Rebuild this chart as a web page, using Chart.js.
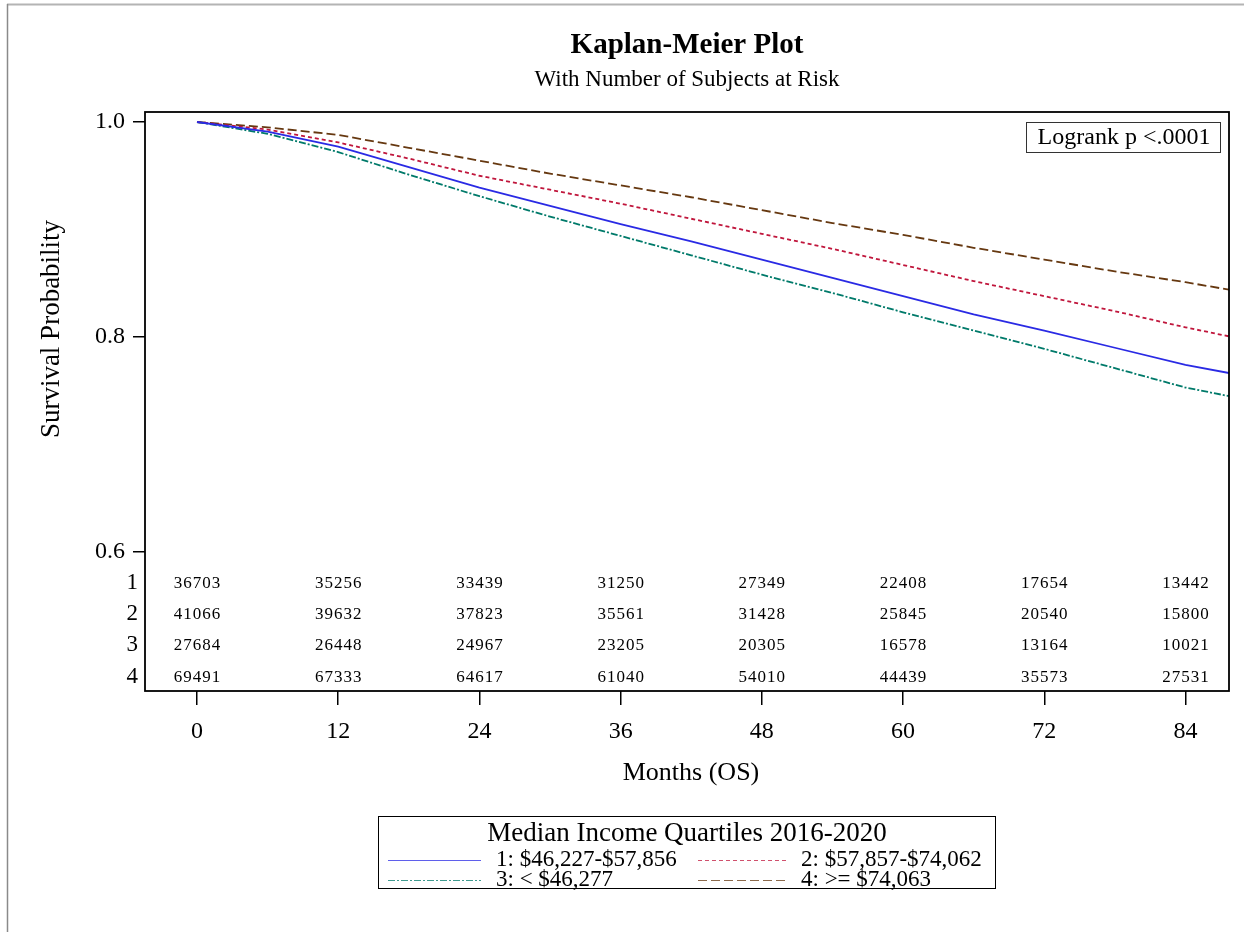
<!DOCTYPE html>
<html>
<head>
<meta charset="utf-8">
<script src="https://cdn.jsdelivr.net/npm/chart.js@4/dist/chart.umd.min.js"></script>
<style>
  html, body { margin: 0; padding: 0; background: #fff; }
  #wrap { width: 1244px; height: 932px; position: relative; }
</style>
</head>
<body>
<div id="wrap"><canvas id="km" width="1244" height="932"></canvas></div>
<script>
// Survival estimates (months of overall survival vs. probability)
const months = [0, 6, 12, 18, 24, 30, 36, 42, 48, 54, 60, 66, 72, 78, 84, 87.7];
const surv1 = [1.000, 0.991, 0.977, 0.958, 0.939, 0.922, 0.905, 0.889, 0.872, 0.855, 0.838, 0.821, 0.806, 0.790, 0.774, 0.7665];
const surv2 = [1.000, 0.993, 0.981, 0.966, 0.950, 0.937, 0.924, 0.910, 0.896, 0.882, 0.867, 0.852, 0.838, 0.824, 0.809, 0.8006];
const surv3 = [1.000, 0.989, 0.972, 0.951, 0.931, 0.912, 0.894, 0.876, 0.858, 0.841, 0.823, 0.806, 0.789, 0.771, 0.753, 0.745];
const surv4 = [1.000, 0.995, 0.988, 0.976, 0.964, 0.952, 0.941, 0.930, 0.918, 0.906, 0.895, 0.883, 0.872, 0.861, 0.851, 0.844];

// Number of subjects at risk at each labelled month
const tickMonths = [0, 12, 24, 36, 48, 60, 72, 84];
const atRisk1 = [36703, 35256, 33439, 31250, 27349, 22408, 17654, 13442];
const atRisk2 = [41066, 39632, 37823, 35561, 31428, 25845, 20540, 15800];
const atRisk3 = [27684, 26448, 24967, 23205, 20305, 16578, 13164, 10021];
const atRisk4 = [69491, 67333, 64617, 61040, 54010, 44439, 35573, 27531];

const yTicks = [0.6, 0.8, 1.0];
const groupIds = ['1', '2', '3', '4'];
const groupNames = ['1: $46,227-$57,856', '2: $57,857-$74,062', '3: < $46,277', '4: >= $74,063'];
const legendTitle = 'Median Income Quartiles 2016-2020';
const titleText = 'Kaplan-Meier Plot';
const subtitleText = 'With Number of Subjects at Risk';
const xTitle = 'Months (OS)';
const yTitle = 'Survival Probability';
const pText = 'Logrank p <.0001';

const SERIF = '"Liberation Serif", "Times New Roman", serif';
const colors = ['#2a2ae4', '#c0163c', '#007a6a', '#663810'];
const dashes = [[], [4, 3], [7, 2, 2, 2], [9, 4]];
const survAll = [surv1, surv2, surv3, surv4];
const riskAll = [atRisk1, atRisk2, atRisk3, atRisk4];

const datasets = survAll.map((s, i) => ({
  label: groupNames[i],
  data: months.map((m, k) => ({ x: m, y: s[k] })),
  borderColor: colors[i],
  borderWidth: 1.8,
  borderDash: dashes[i],
  pointRadius: 0,
  tension: 0,
  fill: false
}));

const decor = {
  id: 'decor',
  afterDraw(chart) {
    const ctx = chart.ctx;
    const a = chart.chartArea;
    const xs = chart.scales.x;
    ctx.save();

    // page edges
    ctx.strokeStyle = '#b4b4b4';
    ctx.lineWidth = 2;
    ctx.beginPath(); ctx.moveTo(7, 4.5); ctx.lineTo(1244, 4.5); ctx.stroke();
    ctx.strokeStyle = '#8a8a8a';
    ctx.lineWidth = 1.5;
    ctx.beginPath(); ctx.moveTo(7.5, 4); ctx.lineTo(7.5, 932); ctx.stroke();

    // plot frame
    ctx.strokeStyle = '#000';
    ctx.lineWidth = 1.8;
    ctx.strokeRect(a.left, a.top, a.right - a.left, a.bottom - a.top);

    const cx = (a.left + a.right) / 2;
    ctx.fillStyle = '#000';
    ctx.textAlign = 'center';
    ctx.textBaseline = 'middle';
    ctx.font = 'bold 29px ' + SERIF;
    ctx.fillText(titleText, cx, 46);
    ctx.font = '23px ' + SERIF;
    ctx.fillText(subtitleText, cx, 80);

    // axis titles
    ctx.font = '26px ' + SERIF;
    ctx.fillText(xTitle, cx + 4, 773);
    ctx.save();
    ctx.font = '27px ' + SERIF;
    ctx.translate(52, 329);
    ctx.rotate(-Math.PI / 2);
    ctx.fillText(yTitle, 0, 0);
    ctx.restore();

    // logrank box
    ctx.lineWidth = 1;
    ctx.strokeStyle = '#333';
    ctx.strokeRect(1026.5, 122.5, 194, 30);
    ctx.font = '24px ' + SERIF;
    ctx.fillText(pText, 1124, 138);

    // at-risk table
    const rowY = [583, 614, 645, 677];
    ctx.font = '23px ' + SERIF;
    ctx.textAlign = 'right';
    groupIds.forEach((g, i) => ctx.fillText(g, 138, rowY[i]));
    ctx.font = '17px ' + SERIF;
    ctx.textAlign = 'center';
    ctx.letterSpacing = '1px';
    riskAll.forEach((row, i) => {
      row.forEach((n, k) => ctx.fillText(String(n), xs.getPixelForValue(tickMonths[k]) + 0.5, rowY[i] + 1));
    });
    ctx.letterSpacing = '0px';

    // legend
    const lx = 378.5, ly = 816.5, lw = 617, lh = 72;
    ctx.strokeStyle = '#000';
    ctx.lineWidth = 1;
    ctx.strokeRect(lx, ly, lw, lh);
    ctx.font = '27px ' + SERIF;
    ctx.fillText(legendTitle, lx + lw / 2, 834);
    const cols = [{ x0: 388, x1: 481, tx: 496 }, { x0: 698, x1: 786, tx: 801 }];
    const rows = [860, 880];
    ctx.font = '23px ' + SERIF;
    ctx.textAlign = 'left';
    groupNames.forEach((name, i) => {
      const c = cols[i % 2], y = rows[Math.floor(i / 2)];
      ctx.strokeStyle = colors[i];
      ctx.globalAlpha = 0.75;
      ctx.lineWidth = 1.2;
      ctx.setLineDash(dashes[i]);
      ctx.beginPath(); ctx.moveTo(c.x0, y + 0.5); ctx.lineTo(c.x1, y + 0.5); ctx.stroke();
      ctx.setLineDash([]);
      ctx.globalAlpha = 1;
      ctx.fillText(name, c.tx, y);
    });
    ctx.restore();
  }
};

new Chart(document.getElementById('km'), {
  type: 'line',
  data: { datasets },
  options: {
    responsive: false,
    animation: false,
    devicePixelRatio: 1,
    layout: { padding: { top: 112, right: 15, left: 0, bottom: 0 } },
    plugins: { legend: { display: false }, tooltip: { enabled: false }, title: { display: false } },
    scales: {
      x: {
        type: 'linear',
        min: -4.42,
        max: 87.7,
        afterBuildTicks: s => { s.ticks = tickMonths.map(v => ({ value: v })); },
        afterFit: s => { s.height = 241; },
        ticks: { font: { family: SERIF, size: 24 }, color: '#000', padding: 12, maxRotation: 0, autoSkip: false },
        grid: { drawOnChartArea: false, drawTicks: true, tickLength: 14, color: '#000', lineWidth: 1.5 },
        border: { display: false }
      },
      y: {
        type: 'linear',
        min: 0.4707,
        max: 1.0093,
        afterBuildTicks: s => { s.ticks = yTicks.map(v => ({ value: v })); },
        afterFit: s => { s.width = 145; },
        ticks: { font: { family: SERIF, size: 24 }, color: '#000', padding: 8, callback: v => v.toFixed(1) },
        grid: { drawOnChartArea: false, drawTicks: true, tickLength: 12, color: '#000', lineWidth: 1.5 },
        border: { display: false }
      }
    }
  },
  plugins: [decor]
});
</script>
</body>
</html>
